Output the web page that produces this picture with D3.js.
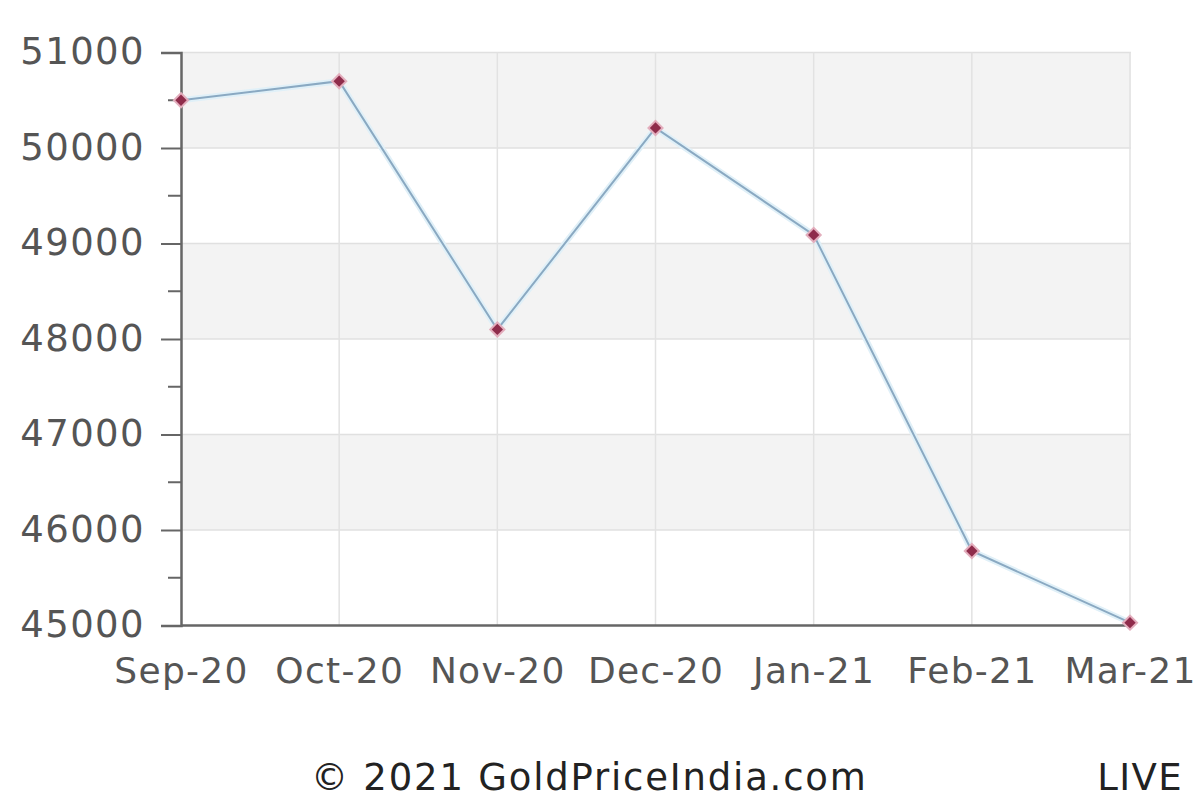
<!DOCTYPE html>
<html><head><meta charset="utf-8">
<script src="https://cdn.jsdelivr.net/npm/d3@7"></script>
<style>html,body{margin:0;padding:0;background:#fff;}svg{display:block;}</style>
</head><body>
<svg id="c" width="1200" height="800"></svg>
<script>
const months = ["Sep-20","Oct-20","Nov-20","Dec-20","Jan-21","Feb-21","Mar-21"];
const prices = [50500, 50700, 48100, 50210, 49090, 45780, 45030];
const yTicks = [45000, 46000, 47000, 48000, 49000, 50000, 51000];
const footerLeft = "© 2021 GoldPriceIndia.com";
const footerRight = "LIVE";

(function(){
const svg = d3.select("#c");
const pLeft = 181, pRight = 1131, pTop = 52.5, pBottom = 625.5;
const x = d3.scalePoint().domain(months).range([pLeft, 1130]);
const y = d3.scaleLinear().domain([45000, 51000]).range([pBottom, pTop]);
const font = "'DejaVu Sans', sans-serif";

// bands
const bands = d3.pairs(yTicks).filter((d, i) => i % 2 === 1);
svg.append("g").selectAll("rect").data(bands).join("rect")
  .attr("x", pLeft).attr("width", pRight - pLeft)
  .attr("y", d => y(d[1])).attr("height", d => y(d[0]) - y(d[1]))
  .attr("fill", "#f3f3f3");

// horizontal grid
svg.append("g").selectAll("line").data(yTicks.slice(1)).join("line")
  .attr("x1", pLeft).attr("x2", pRight)
  .attr("y1", d => y(d)).attr("y2", d => y(d))
  .attr("stroke", "#e0e0e0").attr("stroke-width", 1.5);

// vertical grid
svg.append("g").selectAll("line").data(months.slice(1)).join("line")
  .attr("x1", d => x(d)).attr("x2", d => x(d))
  .attr("y1", pTop).attr("y2", pBottom)
  .attr("stroke", "#e2e2e2").attr("stroke-width", 1.5);

// y axis
const yAxis = d3.axisLeft(y).tickValues(yTicks).tickSize(20).tickPadding(14)
  .tickFormat(d3.format("d"));
const gy = svg.append("g").attr("transform", `translate(${pLeft},0)`).call(yAxis);
gy.select(".domain").attr("stroke", "#666").attr("stroke-width", 2.5);
gy.selectAll(".tick line").attr("stroke", "#666").attr("stroke-width", 2);
gy.selectAll(".tick text").attr("font-family", font).attr("font-size", 37)
  .attr("letter-spacing", 1.4).attr("fill", "#555").attr("dx", -2).attr("dy", "0.3em");
// minor ticks
const minor = d3.pairs(yTicks).map(p => (p[0] + p[1]) / 2);
svg.append("g").selectAll("line").data(minor).join("line")
  .attr("x1", pLeft - 13).attr("x2", pLeft)
  .attr("y1", d => y(d)).attr("y2", d => y(d))
  .attr("stroke", "#666").attr("stroke-width", 2);

// x axis
const xAxis = d3.axisBottom(x).tickSize(0).tickPadding(32);
const gx = svg.append("g").attr("transform", `translate(0,${pBottom})`).call(xAxis);
gx.select(".domain").attr("d", `M${pLeft},0H${pRight}`).attr("stroke", "#666").attr("stroke-width", 2.5);
gx.selectAll(".tick text").attr("font-family", font).attr("font-size", 36)
  .attr("letter-spacing", 1.3).attr("fill", "#555");

// line
const pts = months.map((m, i) => [x(m), y(prices[i])]);
svg.append("path").attr("d", d3.line()(pts))
  .attr("fill", "none").attr("stroke", "#e0f0f8").attr("stroke-width", 6);
svg.append("path").attr("d", d3.line()(pts))
  .attr("fill", "none").attr("stroke", "#8aa9c2").attr("stroke-width", 2);

// markers
const sym = d3.symbol().type(d3.symbolSquare).size(100);
svg.append("g").selectAll("path").data(pts).join("path")
  .attr("transform", d => `translate(${d[0]},${d[1]}) rotate(45)`)
  .attr("d", sym).attr("fill", "#8f2c4b").attr("stroke", "#e3aebd").attr("stroke-width", 2);

// footer
svg.append("text").attr("x", 311).attr("y", 790).text(footerLeft)
  .attr("font-family", font).attr("font-size", 37).attr("letter-spacing", 1.8).attr("fill", "#222");
svg.append("text").attr("x", 1183).attr("y", 790).attr("text-anchor", "end").text(footerRight)
  .attr("font-family", font).attr("font-size", 37).attr("letter-spacing", 1.4).attr("fill", "#222");
})();
</script>
</body></html>
